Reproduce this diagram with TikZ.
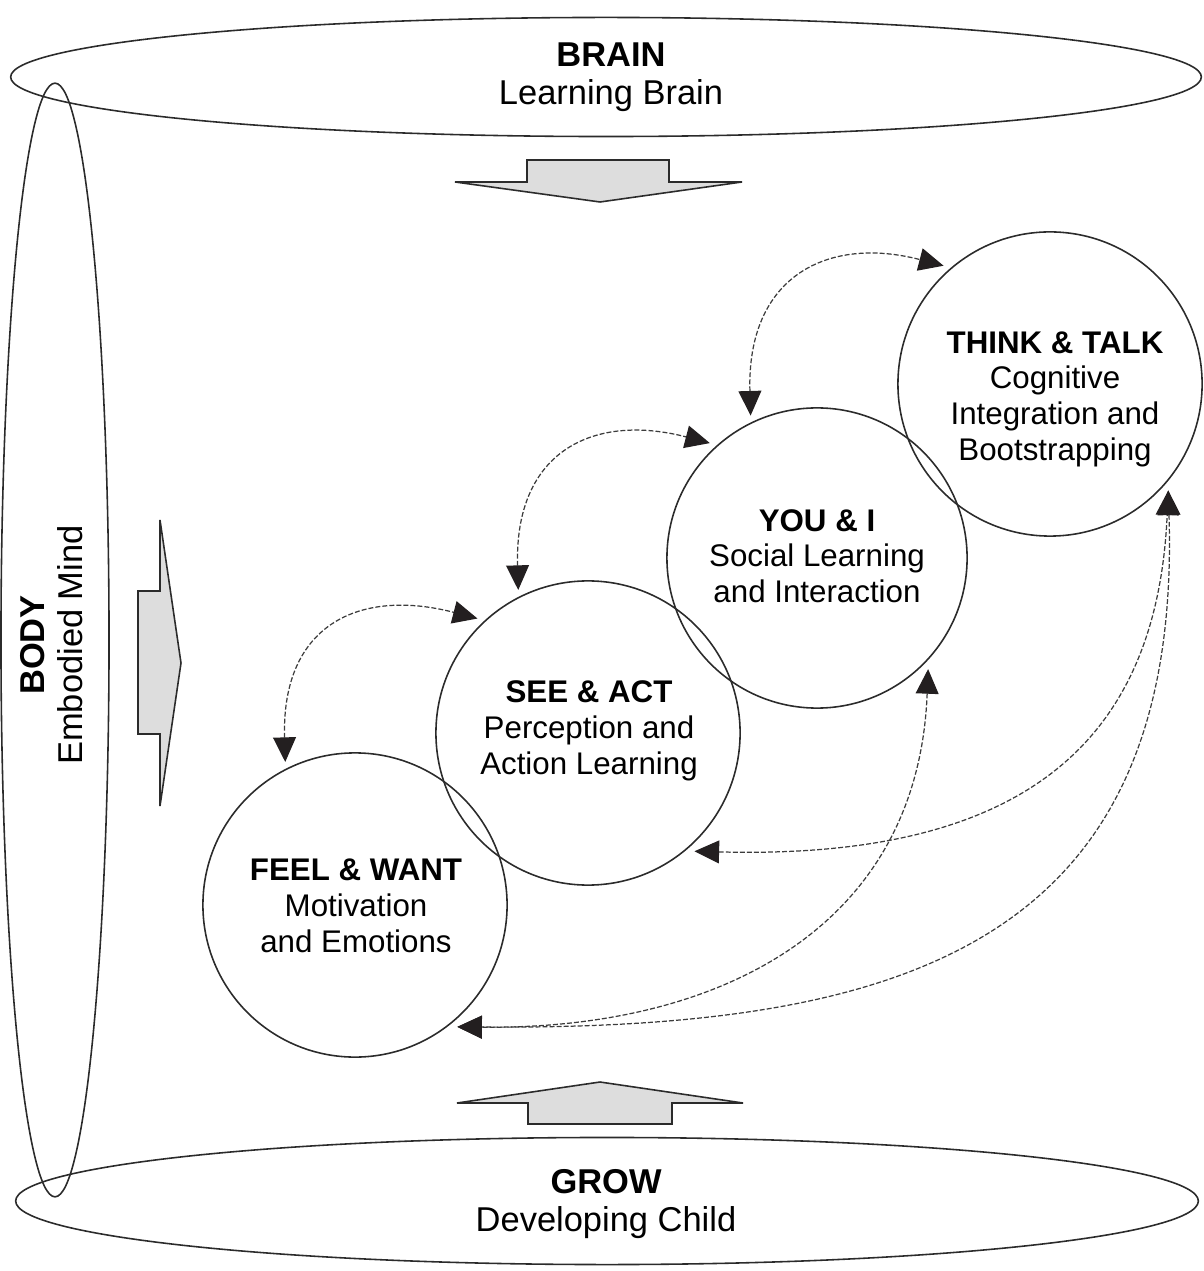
\documentclass[tikz,border=0pt]{standalone}
\usepackage{fontspec}
\setmainfont{Liberation Sans}
\usepackage{tikz}
\usetikzlibrary{calc,arrows.meta}
\usetikzlibrary{shapes.geometric}
\definecolor{bd-line}{HTML}{2B2B2B}
\definecolor{bd-fill}{HTML}{DDDDDD}
\definecolor{bd-dash}{HTML}{3C3C3C}
\definecolor{bd-tip}{HTML}{231F20}

\begin{document}
\begin{tikzpicture}[x=0.01cm, y=-0.01cm,
    stage/.style={circle, draw=bd-line, line width=0.45pt, minimum size=3.04cm, outer sep=2pt},
    caption/.style={align=center, font=\fontsize{8.9}{10.15}\selectfont},
    band/.style={ellipse, draw=bd-line, line width=0.45pt, inner sep=0pt},
    tag/.style={align=center, font=\fontsize{9.8}{10.8}\selectfont},
    bigarrow/.style={draw=bd-line, fill=bd-fill, line width=0.45pt},
    link/.style={draw=bd-dash, line width=0.35pt, dash pattern=on 1.4pt off 0.6pt,
        {Triangle[length=7pt,width=6.5pt,color=bd-tip]}-{Triangle[length=7pt,width=6.5pt,color=bd-tip]}}]
    \useasboundingbox (0,0) rectangle (1203,1271);
    % Outer bands
    \node[band, minimum width=11.9cm, minimum height=1.19cm] (brain) at (606,77) {};
    \node[band, minimum width=11.82cm, minimum height=1.27cm] (grow) at (607,1201) {};
    \node[band, minimum width=1.08cm, minimum height=11.13cm] (body) at (55,640) {};
    \node[tag] (brain-t) at (611,77) {\textbf{BRAIN}\\Learning Brain};
    \node[tag] (grow-t) at (606,1204) {\textbf{GROW}\\Developing Child};
    \node[tag, rotate=90] (body-t) at (52,645) {\textbf{BODY}\\Embodied Mind};
    % Block arrows pointing inwards
    \draw[bigarrow] (527,160) -- (669,160) -- (669,182) -- (742,182) -- (600,202) -- (455,182) -- (527,182) -- cycle;
    \draw[bigarrow] (600,1082) -- (743,1103) -- (672,1103) -- (672,1124) -- (528,1124) -- (528,1103) -- (457,1103) -- cycle;
    \draw[bigarrow] (160,520) -- (181,663) -- (160,806) -- (160,734) -- (138,734) -- (138,591) -- (160,591) -- cycle;
    % Stages
    \node[stage] (think) at (1050,384) {};
    \node[stage, minimum size=3.0cm] (you) at (817,558) {};
    \node[stage] (see) at (588,733) {};
    \node[stage] (feel) at (355,905) {};
    \node[caption] (think-t) at (1055,399) {\textbf{THINK \& TALK}\\Cognitive\\Integration and\\Bootstrapping};
    \node[caption] (you-t) at (817,556) {\textbf{YOU \& I}\\Social Learning\\and Interaction};
    \node[caption] (see-t) at (589,731) {\textbf{SEE \& ACT}\\Perception and\\Action Learning};
    \node[caption] (feel-t) at (356,906) {\textbf{FEEL \& WANT}\\Motivation\\and Emotions};
    % Links between neighbours
    \draw[link] (feel.116) .. controls +(-4,-140) and +(-115,-30) .. (see.134);
    \draw[link] (see.116) .. controls +(-4,-140) and +(-115,-30) .. (you.133);
    \draw[link] (you.115) .. controls +(-4,-140) and +(-115,-30) .. (think.132);
    % Long links
    \draw[link] (see.-48) .. controls +(336,9) and +(-11,246) .. (think.-42);
    \draw[link] (you.-45) .. controls +(-10,258) and +(263,3) .. (feel.-50);
    \draw[link] (think.-42) .. controls +(14,456) and +(443,3) .. (feel.-50);
\end{tikzpicture}
\end{document}
